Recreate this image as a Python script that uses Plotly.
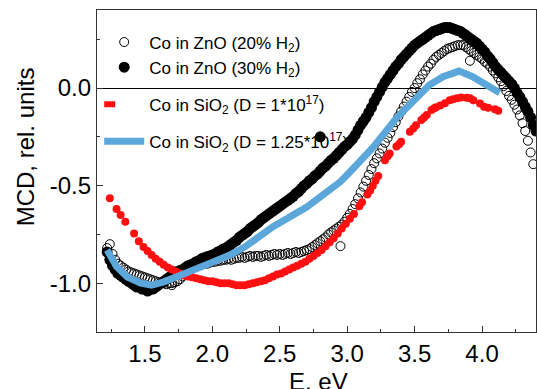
import plotly.graph_objects as go

# ---------------- data ----------------
# Co in ZnO (20% H2) – open circles
e_zno20 = [1.22, 1.24, 1.26, 1.28, 1.30, 1.32, 1.34, 1.36, 1.38, 1.40, 1.42, 1.44, 1.46, 1.48,
           1.50, 1.52, 1.54, 1.56, 1.58, 1.60, 1.62, 1.64, 1.66, 1.68, 1.70, 1.70, 1.72, 1.74,
           1.76, 1.78, 1.80, 1.82, 1.84, 1.86, 1.88, 1.90, 1.92, 1.94, 1.96, 1.98, 2.00, 2.02,
           2.04, 2.06, 2.08, 2.10, 2.12, 2.14, 2.16, 2.18, 2.20, 2.22, 2.24, 2.26, 2.28, 2.30,
           2.32, 2.34, 2.36, 2.38, 2.40, 2.42, 2.44, 2.46, 2.48, 2.50, 2.52, 2.54, 2.56, 2.58,
           2.60, 2.62, 2.64, 2.66, 2.68, 2.70, 2.72, 2.74, 2.76, 2.78, 2.80, 2.82, 2.84, 2.86,
           2.88, 2.90, 2.92, 2.94, 2.95, 2.96, 2.98, 3.00, 3.02, 3.04, 3.06, 3.08, 3.10, 3.12,
           3.14, 3.16, 3.18, 3.20, 3.22, 3.24, 3.26, 3.28, 3.30, 3.32, 3.34, 3.36, 3.38, 3.40,
           3.42, 3.44, 3.46, 3.48, 3.50, 3.52, 3.54, 3.56, 3.58, 3.60, 3.62, 3.64, 3.66, 3.68,
           3.70, 3.72, 3.74, 3.76, 3.78, 3.80, 3.82, 3.84, 3.86, 3.88, 3.90, 3.91, 3.92, 3.94,
           3.96, 3.98, 4.00, 4.02, 4.04, 4.06, 4.08, 4.10, 4.12, 4.14, 4.16, 4.18, 4.20, 4.22,
           4.24, 4.26, 4.28, 4.30, 4.32, 4.34, 4.36, 4.38]
v_zno20 = [-0.82, -0.80, -0.85, -0.88, -0.90, -0.91, -0.92, -0.93, -0.94, -0.945, -0.95, -0.955,
           -0.96, -0.965, -0.97, -0.975, -0.98, -0.985, -0.99, -0.995, -1.00, -1.00, -1.005, -1.00,
           -1.00, -1.01, -0.995, -0.99, -0.98, -0.965, -0.95, -0.94, -0.93, -0.92, -0.915, -0.91,
           -0.905, -0.90, -0.90, -0.895, -0.89, -0.89, -0.885, -0.885, -0.88, -0.88, -0.875, -0.88,
           -0.875, -0.87, -0.87, -0.865, -0.87, -0.865, -0.86, -0.865, -0.86, -0.86, -0.865, -0.86,
           -0.855, -0.86, -0.855, -0.85, -0.855, -0.85, -0.855, -0.85, -0.845, -0.85, -0.845,
           -0.84, -0.845, -0.84, -0.835, -0.83, -0.825, -0.815, -0.805, -0.795, -0.785, -0.775,
           -0.765, -0.75, -0.74, -0.73, -0.72, -0.71, -0.81, -0.70, -0.685, -0.665, -0.645, -0.62,
           -0.595, -0.565, -0.535, -0.505, -0.475, -0.445, -0.415, -0.385, -0.36, -0.335, -0.31,
           -0.28, -0.255, -0.23, -0.20, -0.175, -0.145, -0.12, -0.095, -0.07, -0.045, -0.02, 0.00,
           0.025, 0.045, 0.07, 0.09, 0.11, 0.125, 0.145, 0.16, 0.17, 0.18, 0.19, 0.20, 0.205, 0.21,
           0.215, 0.22, 0.22, 0.22, 0.21, 0.20, 0.14, 0.19, 0.18, 0.17, 0.16, 0.15, 0.135, 0.125,
           0.11, 0.09, 0.075, 0.055, 0.035, 0.01, -0.015, -0.04, -0.06, -0.085, -0.11, -0.14,
           -0.18, -0.22, -0.27, -0.33, -0.39]

# Co in ZnO (30% H2) – filled circles
e_zno30 = [1.22, 1.24, 1.26, 1.28, 1.30, 1.32, 1.34, 1.36, 1.38, 1.40, 1.42, 1.44, 1.46, 1.48,
           1.50, 1.52, 1.54, 1.56, 1.58, 1.60, 1.62, 1.64, 1.66, 1.68, 1.70, 1.72, 1.74, 1.76,
           1.78, 1.80, 1.82, 1.84, 1.86, 1.88, 1.90, 1.92, 1.94, 1.96, 1.98, 2.00, 2.02, 2.04,
           2.06, 2.08, 2.10, 2.12, 2.14, 2.16, 2.18, 2.20, 2.22, 2.24, 2.26, 2.28, 2.30, 2.32,
           2.34, 2.36, 2.38, 2.40, 2.42, 2.44, 2.46, 2.48, 2.50, 2.52, 2.54, 2.56, 2.58, 2.60,
           2.62, 2.64, 2.66, 2.68, 2.70, 2.72, 2.74, 2.76, 2.78, 2.80, 2.80, 2.82, 2.84, 2.86,
           2.88, 2.90, 2.92, 2.94, 2.96, 2.98, 3.00, 3.02, 3.04, 3.06, 3.08, 3.10, 3.12, 3.14,
           3.16, 3.18, 3.20, 3.22, 3.24, 3.26, 3.28, 3.30, 3.32, 3.34, 3.36, 3.38, 3.40, 3.42,
           3.44, 3.46, 3.48, 3.50, 3.52, 3.54, 3.56, 3.58, 3.60, 3.62, 3.64, 3.66, 3.68, 3.70,
           3.72, 3.74, 3.76, 3.78, 3.80, 3.82, 3.84, 3.86, 3.88, 3.90, 3.92, 3.94, 3.96, 3.98,
           4.00, 4.02, 4.04, 4.06, 4.08, 4.10, 4.12, 4.14, 4.16, 4.18, 4.20, 4.22, 4.24, 4.26,
           4.28, 4.30, 4.32, 4.34, 4.36, 4.38, 4.40]
v_zno30 = [-0.84, -0.88, -0.91, -0.93, -0.95, -0.96, -0.97, -0.98, -0.99, -1.00, -1.01, -1.02,
           -1.02, -1.03, -1.03, -1.04, -1.03, -1.03, -1.02, -1.01, -1.00, -0.99, -0.98, -0.97,
           -0.96, -0.95, -0.94, -0.935, -0.93, -0.92, -0.91, -0.905, -0.90, -0.89, -0.885, -0.875,
           -0.87, -0.865, -0.86, -0.855, -0.85, -0.84, -0.835, -0.825, -0.82, -0.81, -0.80, -0.79,
           -0.78, -0.765, -0.755, -0.745, -0.735, -0.72, -0.71, -0.70, -0.69, -0.675, -0.665,
           -0.655, -0.645, -0.635, -0.625, -0.615, -0.605, -0.595, -0.585, -0.575, -0.565, -0.555,
           -0.54, -0.53, -0.515, -0.50, -0.49, -0.475, -0.465, -0.45, -0.44, -0.425, -0.25, -0.41,
           -0.40, -0.385, -0.37, -0.36, -0.345, -0.33, -0.315, -0.30, -0.29, -0.275, -0.26, -0.24,
           -0.215, -0.19, -0.17, -0.15, -0.125, -0.10, -0.07, -0.045, -0.02, 0.005, 0.03, 0.05,
           0.07, 0.09, 0.11, 0.125, 0.145, 0.16, 0.175, 0.19, 0.205, 0.22, 0.23, 0.24, 0.25, 0.26,
           0.27, 0.28, 0.29, 0.295, 0.30, 0.305, 0.31, 0.31, 0.31, 0.305, 0.30, 0.295, 0.29, 0.28,
           0.27, 0.26, 0.25, 0.24, 0.23, 0.215, 0.20, 0.185, 0.165, 0.15, 0.13, 0.11, 0.095, 0.08,
           0.065, 0.05, 0.035, 0.02, 0.00, -0.025, -0.045, -0.07, -0.095, -0.12, -0.15, -0.19,
           -0.22]

# Co in SiO2 (D = 1*10^17) – red
e_sio2_a = [1.24, 1.29, 1.32, 1.355, 1.42, 1.455, 1.49, 1.52, 1.55, 1.58, 1.61, 1.64, 1.67, 1.70,
            1.73, 1.76, 1.79, 1.82, 1.85, 1.88, 1.91, 1.94, 1.97, 2.00, 2.03, 2.06, 2.09, 2.12,
            2.15, 2.18, 2.21, 2.24, 2.27, 2.30, 2.33, 2.36, 2.39, 2.42, 2.45, 2.48, 2.51, 2.54,
            2.57, 2.60, 2.63, 2.66, 2.69, 2.72, 2.75, 2.78, 2.81, 2.84, 2.87, 2.90, 2.93, 2.96,
            2.99, 3.02, 3.05, 3.09, 3.11, 3.15, 3.17, 3.19, 3.21, 3.23, 3.28, 3.30, 3.315, 3.365,
            3.385, 3.40, 3.465, 3.49, 3.51, 3.55, 3.57, 3.59, 3.625, 3.645, 3.66, 3.69, 3.725,
            3.76, 3.785, 3.815, 3.845, 3.885, 3.91, 3.935, 3.985, 4.015, 4.045, 4.095, 4.12, 4.145]
v_sio2_a = [-0.565, -0.62, -0.65, -0.685, -0.745, -0.785, -0.815, -0.835, -0.855, -0.875, -0.89,
            -0.905, -0.92, -0.93, -0.94, -0.95, -0.96, -0.965, -0.97, -0.975, -0.98, -0.985,
            -0.99, -0.99, -0.995, -1.0, -1.0, -1.0, -1.005, -1.01, -1.01, -1.01, -1.005, -1.0,
            -0.995, -0.99, -0.985, -0.975, -0.965, -0.955, -0.95, -0.94, -0.93, -0.92, -0.91,
            -0.90, -0.89, -0.875, -0.86, -0.845, -0.83, -0.81, -0.79, -0.77, -0.745, -0.72,
            -0.695, -0.67, -0.645, -0.605, -0.585, -0.545, -0.525, -0.50, -0.475, -0.45, -0.37,
            -0.35, -0.335, -0.30, -0.288, -0.275, -0.224, -0.207, -0.19, -0.164, -0.151, -0.138,
            -0.113, -0.104, -0.098, -0.09, -0.078, -0.062, -0.057, -0.052, -0.048, -0.05, -0.052,
            -0.062, -0.079, -0.096, -0.101, -0.109, -0.116]

# Co in SiO2 (D = 1.25*10^17) – blue line
e_sio2_b = [1.22, 1.24, 1.29, 1.37, 1.47, 1.55, 1.64, 1.76, 1.89, 2.01, 2.13, 2.24, 2.45, 2.70,
            2.87, 2.95, 3.02, 3.19, 3.37, 3.49, 3.61, 3.71, 3.83, 3.93, 4.03, 4.13]
v_sio2_b = [-0.83, -0.85, -0.915, -0.968, -1.0, -1.01, -0.993, -0.96, -0.925, -0.89, -0.856,
            -0.815, -0.71, -0.61, -0.52, -0.48, -0.43, -0.305, -0.15, -0.065, 0.015, 0.058,
            0.087, 0.058, 0.015, -0.024]

names = ["Co in ZnO (20% H<sub>2</sub>)",
         "Co in ZnO (30% H<sub>2</sub>)",
         "Co in SiO<sub>2</sub> (D = 1*10<sup>17</sup>)",
         "Co in SiO<sub>2</sub> (D = 1.25*10<sup>17</sup>)"]

x_tickvals = [1.5, 2.0, 2.5, 3.0, 3.5, 4.0]
x_ticktext = ["1.5", "2.0", "2.5", "3.0", "3.5", "4.0"]
y_tickvals = [-1.0, -0.5, 0.0]
y_ticktext = ["-1.0", "-0.5", "0.0"]

FONT = "Liberation Sans, Arial, sans-serif"
BLUE = "#5ca7da"
RED = "#ff1010"

fig = go.Figure()

fig.add_trace(go.Scatter(x=e_zno30, y=v_zno30, mode="markers", name=names[1],
                         marker=dict(symbol="circle", size=11, color="black"),
                         legendgroup="zno", legendrank=2))
fig.add_trace(go.Scatter(x=e_zno20, y=v_zno20, mode="markers", name=names[0],
                         marker=dict(symbol="circle-open", size=9, color="black",
                                     line=dict(width=1)),
                         legendgroup="zno", legendrank=1))
fig.add_trace(go.Scatter(x=e_sio2_a, y=v_sio2_a, mode="markers", name=names[2],
                         marker=dict(symbol="circle", size=8, color=RED),
                         legendgroup="sioa", showlegend=False))
# legend entry for the red series (short dash, as in the reference)
fig.add_trace(go.Scatter(x=[None], y=[None], mode="lines", name=names[2],
                         line=dict(color=RED, width=6, dash="11px,60px"),
                         legendgroup="sioa", legendrank=3))
fig.add_trace(go.Scatter(x=e_sio2_b, y=v_sio2_b, mode="lines", name=names[3],
                         line=dict(color=BLUE, width=7),
                         legendgroup="siob", legendrank=4))

axis_common = dict(showline=True, linecolor="#333", linewidth=1.3, mirror=True,
                   ticks="inside", tickcolor="#333", ticklen=6, tickwidth=1.2,
                   showgrid=False, tickfont=dict(family=FONT, size=24, color="black"))

fig.update_xaxes(range=[1.145, 4.40], tickvals=x_tickvals, ticktext=x_ticktext,
                 minor=dict(ticks="inside", dtick=0.25, tick0=1.25, ticklen=3,
                            tickcolor="#333", tickwidth=1.2),
                 zeroline=False, **axis_common)
fig.update_yaxes(range=[-1.25, 0.40], tickvals=y_tickvals, ticktext=y_ticktext,
                 minor=dict(ticks="inside", dtick=0.25, tick0=0.25, ticklen=3,
                            tickcolor="#333", tickwidth=1.2),
                 zeroline=True, zerolinecolor="black", zerolinewidth=1,
                 **axis_common)

fig.add_annotation(text="MCD, rel. units", textangle=-90, xref="paper", yref="paper",
                   x=-0.163, y=0.575, xanchor="center", yanchor="middle", showarrow=False,
                   font=dict(family=FONT, size=24, color="black"))
fig.add_annotation(text="E, eV", xref="paper", yref="paper",
                   x=0.505, y=-0.105, xanchor="center", yanchor="top", showarrow=False,
                   font=dict(family=FONT, size=24, color="black"))

fig.update_layout(
    width=537, height=389,
    margin=dict(l=97, r=1, t=10, b=57),
    paper_bgcolor="white", plot_bgcolor="white",
    font=dict(family=FONT, color="black"),
    legend=dict(x=0.005, y=0.955, xanchor="left", yanchor="top",
                bgcolor="rgba(0,0,0,0)", borderwidth=0, tracegroupgap=12,
                font=dict(family=FONT, size=17, color="black"), itemwidth=40),
)

fig.write_html("out.html", config={"displayModeBar": False},
               post_script="document.body.style.margin='0';document.body.style.overflow='hidden';")
